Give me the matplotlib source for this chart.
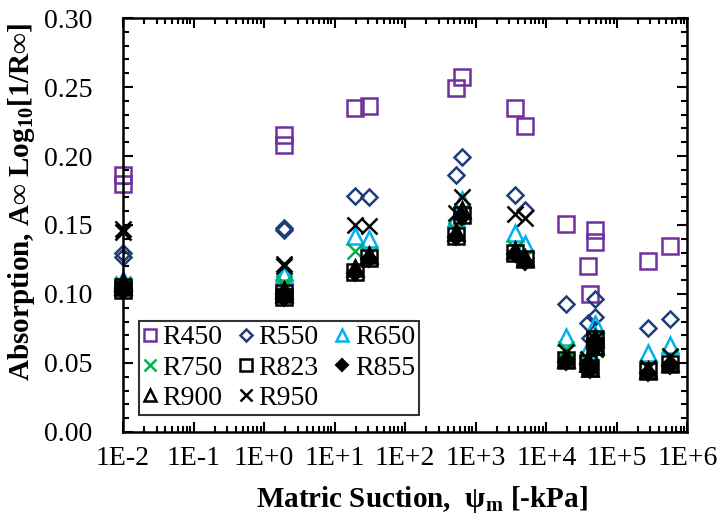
import matplotlib
matplotlib.use("Agg")
import matplotlib.pyplot as plt
from matplotlib.ticker import FixedLocator, FuncFormatter, LogLocator, MultipleLocator, NullFormatter

plt.rcParams["font.family"] = ["Liberation Serif", "DejaVu Serif"]
plt.rcParams["mathtext.fontset"] = "custom"
plt.rcParams["mathtext.rm"] = "Liberation Serif"
plt.rcParams["mathtext.bf"] = "Liberation Serif:bold"

# Matric suction of each sample (kPa)
suction = [0.01, 0.01, 1.9, 1.9, 19.5, 31, 527, 645, 3630, 5040,
           19000, 39400, 42100, 49500, 49500, 280000, 575000]

# Absorption A∞ per wavelength
r450 = [0.186, 0.180, 0.215, 0.208, 0.235, 0.236, 0.249, 0.257, 0.235, 0.222,
        0.151, 0.120, 0.100, 0.146, 0.138, 0.124, 0.135]
r550 = [0.130, 0.127, 0.148, 0.146, 0.171, 0.170, 0.186, 0.199, 0.172, 0.161,
        0.093, 0.079, 0.068, 0.096, 0.083, 0.075, 0.082]
r650 = [0.110, 0.108, 0.116, 0.114, 0.142, 0.140, 0.155, 0.168, 0.144, 0.136,
        0.069, 0.060, 0.055, 0.078, 0.070, 0.057, 0.063]
r750 = [0.107, 0.105, 0.108, 0.106, 0.131, 0.128, 0.146, 0.160, 0.133, 0.127,
        0.060, 0.052, 0.048, 0.066, 0.060, 0.047, 0.054]
r823 = [0.105, 0.103, 0.101, 0.098, 0.116, 0.126, 0.142, 0.157, 0.130, 0.125,
        0.052, 0.050, 0.046, 0.067, 0.062, 0.044, 0.049]
r855 = [0.104, 0.102, 0.100, 0.097, 0.115, 0.125, 0.141, 0.156, 0.129, 0.123,
        0.051, 0.049, 0.045, 0.066, 0.061, 0.043, 0.048]
r900 = [0.109, 0.106, 0.103, 0.100, 0.119, 0.128, 0.145, 0.161, 0.132, 0.126,
        0.053, 0.050, 0.046, 0.068, 0.062, 0.045, 0.050]
r950 = [0.147, 0.145, 0.122, 0.120, 0.150, 0.149, 0.159, 0.170, 0.158, 0.155,
        0.058, 0.053, 0.047, 0.067, 0.060, 0.046, 0.055]

series_names = ["R450", "R550", "R650", "R750", "R823", "R855", "R900", "R950"]
series_values = [r450, r550, r650, r750, r823, r855, r900, r950]
styles = [
    dict(marker="s", ms=11, mfc="none", mec="#7030A0", mew=1.8),
    dict(marker="D", ms=8, mfc="none", mec="#1F3C7A", mew=1.8),
    dict(marker="^", ms=11, mfc="none", mec="#00B0F0", mew=1.8),
    dict(marker="x", ms=11, mfc="none", mec="#00B050", mew=1.8),
    dict(marker="s", ms=11, mfc="none", mec="black", mew=1.8),
    dict(marker="D", ms=8, mfc="black", mec="black", mew=1.5),
    dict(marker="^", ms=11, mfc="none", mec="black", mew=1.8),
    dict(marker="x", ms=11, mfc="none", mec="black", mew=1.8),
]

decade_labels = ["1E-2", "1E-1", "1E+0", "1E+1", "1E+2", "1E+3", "1E+4", "1E+5", "1E+6"]
decades = [1e-2, 1e-1, 1e0, 1e1, 1e2, 1e3, 1e4, 1e5, 1e6]

fig = plt.figure(figsize=(7.19, 5.16), dpi=100)
ax = fig.add_axes([0.171, 0.163, 0.785, 0.802])

handles = {}
for name, vals, st in zip(series_names, series_values, styles):
    (h,) = ax.plot(suction, vals, linestyle="none", clip_on=False, label=name, **st)
    handles[name] = h

ax.set_xscale("log")
ax.set_xlim(1e-2, 1e6)
ax.set_ylim(0.0, 0.30)

ax.xaxis.set_major_locator(FixedLocator(decades))
ax.xaxis.set_major_formatter(FuncFormatter(lambda v, p: decade_labels[decades.index(min(decades, key=lambda d: abs(d / v - 1)))]))
ax.xaxis.set_minor_locator(LogLocator(base=10, subs=range(2, 10), numticks=100))
ax.xaxis.set_minor_formatter(NullFormatter())
ax.yaxis.set_major_locator(MultipleLocator(0.05))
ax.yaxis.set_minor_locator(MultipleLocator(0.01))
ax.yaxis.set_major_formatter(FuncFormatter(lambda v, p: f"{v:.2f}"))

ax.tick_params(which="both", direction="in", top=True, right=True, width=1.5, labelsize=20, colors="black")
ax.tick_params(which="major", length=7)
ax.tick_params(which="minor", length=4)
ax.tick_params(axis="y", which="major", pad=22)
ax.tick_params(axis="x", which="major", pad=10)
for sp in ax.spines.values():
    sp.set_linewidth(1.8)

ax.set_xlabel(r"Matric Suction,  ψ$_\mathbf{m}$ [-kPa]", fontsize=21, fontweight="bold")
ax.set_ylabel(r"Absorption, A∞ Log$_\mathbf{10}$[1/R∞]", fontsize=21, fontweight="bold")
ax.xaxis.set_label_coords(0.530, -0.125)
ax.yaxis.set_label_coords(-0.153, 0.556)

order = ["R450", "R750", "R900", "R550", "R823", "R950", "R650", "R855"]
leg = ax.legend([handles[n] for n in order], order, ncol=3, loc="lower left",
                bbox_to_anchor=(0.028, 0.04), fontsize=20, frameon=True, fancybox=False,
                edgecolor="black", handlelength=0.5, handletextpad=0.2, columnspacing=0.6,
                labelspacing=0.18, borderpad=0.15, borderaxespad=0.0, markerscale=0.8)
leg.get_frame().set_linewidth(1.5)

fig.savefig("out.png", dpi=100)
